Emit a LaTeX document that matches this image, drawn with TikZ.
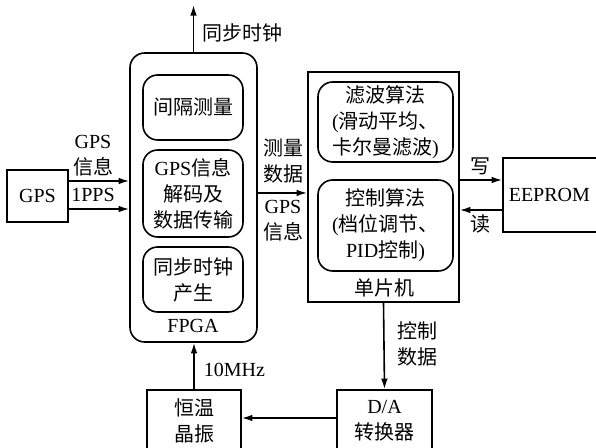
\documentclass[tikz,border=0pt]{standalone}
\usepackage{fontspec}
\setmainfont{Liberation Serif}
\newfontfamily\cjk{Noto Sans CJK SC}
\usetikzlibrary{arrows.meta}
\begin{document}
\begin{tikzpicture}[x=0.75pt,y=-0.75pt,
  font=\fontsize{15pt}{19.5pt}\selectfont,
  line width=1.2pt,
  box/.style={draw,rectangle,inner sep=0pt,align=center},
  rbox/.style={box,rounded corners=11pt},
  lbl/.style={inner sep=0pt,align=center},
  arr/.style={-{Latex[length=8pt,width=5pt]}}]
\clip (0,0) rectangle (596,448);
\fill[white] (0,0) rectangle (596,448);
% FPGA
\node[rbox,minimum width=95.25pt,minimum height=216.75pt] (fpga) at (193.5,197.5) {};
\node[rbox,minimum width=75pt,minimum height=48.75pt] (ia) at (193,107.5) {\cjk 间隔测量};
\node[rbox,minimum width=75pt,minimum height=65.25pt] (ib) at (193,193.5) {GPS{\cjk 信息}\\{\cjk 解码及}\\{\cjk 数据传输}};
\node[rbox,minimum width=75pt,minimum height=48.75pt] (ic) at (193,279.5) {{\cjk 同步时钟}\\{\cjk 产生}};
\node[lbl] (fpgal) at (193,326) {FPGA};
% GPS
\node[box,minimum width=45.75pt,minimum height=39pt] (gps) at (37.5,196) {GPS};
% MCU
\node[box,minimum width=113.25pt,minimum height=172.5pt] (mcu) at (383.5,187) {};
\node[rbox,minimum width=101.25pt,minimum height=60pt] (id) at (385.5,122) {{\cjk 滤波算法}\\({\cjk 滑动平均、}\\{\cjk 卡尔曼滤波})};
\node[rbox,minimum width=101.25pt,minimum height=68.25pt] (ie) at (385.5,225.5) {{\cjk 控制算法}\\({\cjk 档位调节、}\\PID{\cjk 控制})};
\node[lbl] (mcul) at (384,288) {\cjk 单片机};
% EEPROM
\node[box,minimum width=87.75pt,minimum height=55.5pt] (eeprom) at (561.5,195) {};
\node[lbl,anchor=west] (eepromt) at (508,195) {EEPROM};
% bottom
\node[box,minimum width=71.25pt,minimum height=46.5pt] (da) at (384.5,421) {D/A\\{\cjk 转换器}};
\node[box,minimum width=70.5pt,minimum height=46.5pt] (osc) at (194,421) {{\cjk 恒温}\\{\cjk 晶振}};
% connectors
\coordinate (clk) at (193.5,5);
\draw[arr] (fpga.north) -- (clk);
\node[lbl,anchor=west] (clkl) at (202,33) {\cjk 同步时钟};

\coordinate (g1) at ([yshift=11.25pt]gps.east);
\coordinate (g2) at ([yshift=-9.75pt]gps.east);
\draw[arr] (g1) -- (g1 -| fpga.west);
\draw[arr] (g2) -- (g2 -| fpga.west);
\node[lbl] (gpsl) at (93,156) {GPS\\{\cjk 信息}};
\node[lbl] (ppsl) at (93,195) {1PPS};

\coordinate (f1) at ([yshift=3.4pt]fpga.east);
\draw[arr] (f1) -- (f1 -| mcu.west);
\node[lbl] (meas) at (283,161) {{\cjk 测量}\\{\cjk 数据}};
\node[lbl] (gpsi) at (283,221) {GPS\\{\cjk 信息}};

\coordinate (m1) at ([yshift=5.25pt]mcu.east);
\coordinate (m2) at ([yshift=-17.25pt]mcu.east);
\draw[arr] (m1) -- (m1 -| eeprom.west);
\draw[arr] (m2 -| eeprom.west) -- (m2);
\node[lbl] (wr) at (480,166) {\cjk 写};
\node[lbl] (rd) at (480,224) {\cjk 读};

\draw[arr] (mcu.south) -- (da.north);
\node[lbl] (ctl) at (417,344) {{\cjk 控制}\\{\cjk 数据}};

\coordinate (d1) at ([yshift=2.25pt]da.west);
\draw[arr] (d1) -- (d1 -| osc.east);

\draw[arr] (osc.north) -- (osc.north |- fpga.south);
\node[lbl,anchor=west] (mhz) at (203,370) {10MHz};
\end{tikzpicture}
\end{document}
